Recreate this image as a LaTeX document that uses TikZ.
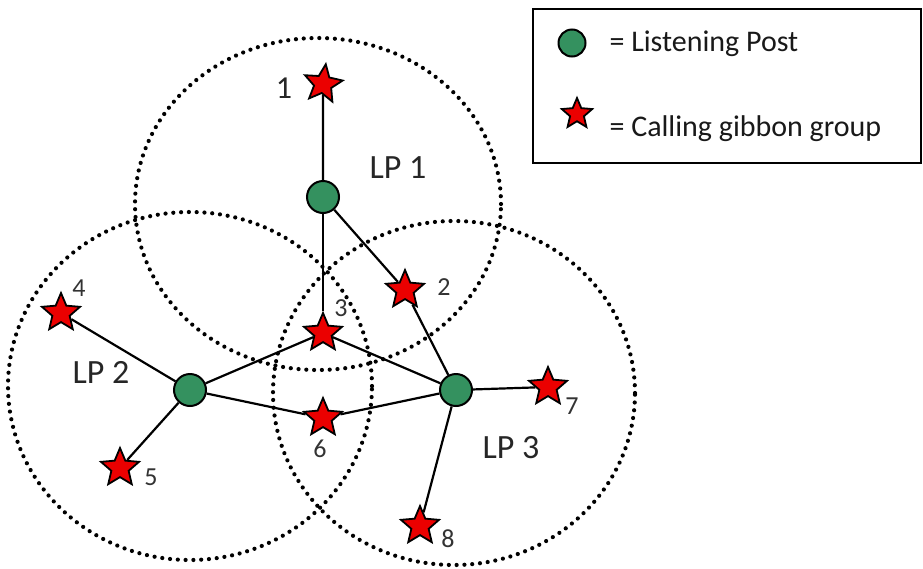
\documentclass[tikz,border=0pt]{standalone}
\usepackage{fontspec}
\setmainfont{Carlito}
\usetikzlibrary{shapes.geometric}
\definecolor{lpgreen}{RGB}{52,145,95}
\definecolor{gred}{RGB}{235,0,0}
\begin{document}
\begin{tikzpicture}[x=1pt,y=-1pt,
  lp/.style={circle,draw=black,line width=2pt,fill=lpgreen,minimum size=32pt,inner sep=0pt},
  gib/.style={star,star points=5,star point ratio=2.2,draw=black,line width=1.8pt,fill=gred,minimum size=40pt,inner sep=0pt},
  rangering/.style={line width=4.2pt,line cap=round,dash pattern=on 0pt off 7.8pt},
  link/.style={line width=2.2pt},
  big/.style={font=\fontsize{34}{36}\selectfont,text=black!85},
  num/.style={font=\fontsize{26}{28}\selectfont,text=black!80}]
\useasboundingbox (0,0) rectangle (923,568);
% range circles
\draw[rangering] (318,204) ellipse [x radius=183pt, y radius=166pt];
\draw[rangering] (190,386) ellipse [x radius=182pt, y radius=174pt];
\draw[rangering] (454,393) ellipse [x radius=181pt, y radius=172pt];
% listening posts
\node[lp] (lp1) at (323,197) {};
\node[lp] (lp2) at (190,390) {};
\node[lp] (lp3) at (456,390) {};
% gibbon groups
\node[gib,rotate=-8] (s1) at (323,84) {};
\node[gib] (s2) at (405,290) {};
\node[gib] (s3) at (323,333) {};
\node[gib] (s4) at (61,313) {};
\node[gib] (s5) at (120,468) {};
\node[gib] (s6) at (323,418) {};
\node[gib] (s7) at (548,387) {};
\node[gib] (s8) at (420,526) {};
% links
\draw[link] (lp1) -- (s1);
\draw[link] (lp1) -- (s3);
\draw[link] (lp1) -- (s2);
\draw[link] (lp2) -- (s4);
\draw[link] (lp2) -- (s5);
\draw[link] (lp2) -- (s3);
\draw[link] (lp2) -- (s6);
\draw[link] (lp3) -- (s2);
\draw[link] (lp3) -- (s3);
\draw[link] (lp3) -- (s6);
\draw[link] (lp3) -- (s7);
\draw[link] (lp3) -- (s8);
% labels
\node[big] (l1) at (398,168) {LP 1};
\node[big] (l2) at (101,372) {LP 2};
\node[big] (l3) at (511,448) {LP 3};
\node[font=\fontsize{32}{34}\selectfont,text=black!85] (n1) at (284,88) {1};
\node[num] (n2) at (444,287) {2};
\node[num] (n3) at (341,308) {3};
\node[num] (n4) at (79,288) {4};
\node[num] (n5) at (151,477) {5};
\node[num] (n6) at (320,449) {6};
\node[num] (n7) at (572,406) {7};
\node[num] (n8) at (448,539) {8};
% legend
\node[draw=black,line width=2pt,minimum width=388pt,minimum height=154pt,inner sep=0pt] (leg) at (727,86) {};
\node[lp,minimum size=27pt] (klp) at (572,43) {};
\node[gib,minimum size=32pt] (kgib) at (577,114) {};
\node[anchor=west,font=\fontsize{30}{32}\selectfont,text=black!90] (t1) at (606,44) {= Listening Post};
\node[anchor=west,font=\fontsize{30}{32}\selectfont,text=black!90] (t2) at (606,129) {= Calling gibbon group};
\end{tikzpicture}
\end{document}
